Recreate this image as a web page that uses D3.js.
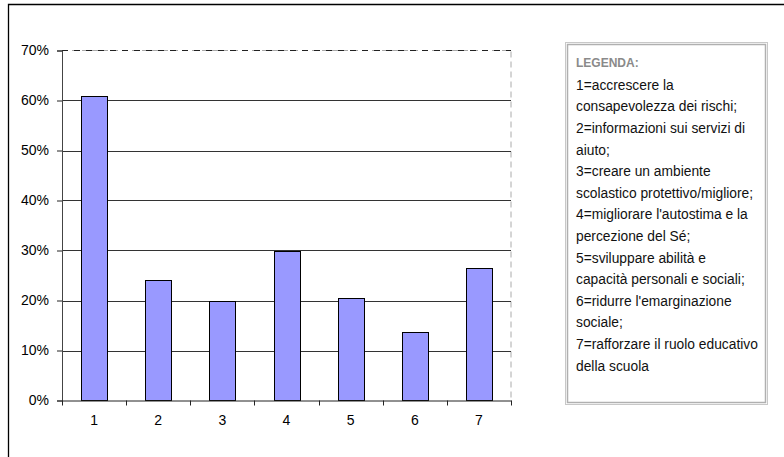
<!DOCTYPE html>
<html><head><meta charset="utf-8">
<script src="https://cdn.jsdelivr.net/npm/d3@7"></script>
<style>body{margin:0;background:#fff}svg{display:block}</style>
</head><body>
<script>
const categories = ["1","2","3","4","5","6","7"];
const values = [0.61, 0.242, 0.199, 0.299, 0.206, 0.138, 0.264];
const yTicks = [0,0.1,0.2,0.3,0.4,0.5,0.6,0.7];
const legendTitle = "LEGENDA:";
const legendLines = ["1=accrescere la","consapevolezza dei rischi;","2=informazioni sui servizi  di","aiuto;","3=creare un ambiente","scolastico protettivo/migliore;","4=migliorare l'autostima e la","percezione del Sé;","5=sviluppare abilità e","capacità personali e sociali;","6=ridurre l'emarginazione","sociale;","7=rafforzare il ruolo educativo","della scuola"];

const W=784,H=457;
const svg=d3.select("body").append("svg").attr("width",W).attr("height",H);
svg.append("rect").attr("width",W).attr("height",H).attr("fill","#fff");
// outer frame
svg.append("path").attr("d",`M8.5,${H+5}V4.5H${W+5}`).attr("fill","none").attr("stroke","#000").attr("stroke-width",1.3);

const L=62,R=511,T=50.5,B=400.5;
const x=d3.scaleBand().domain(categories).range([L,R]);
const y=d3.scaleLinear().domain([0,0.7]).range([B,T]);
const font="'Liberation Sans', Arial, sans-serif";

// plot border dashed
svg.append("path").attr("d",`M${L},${T}H${R}V${B}`).attr("fill","none").attr("stroke","#aaa").attr("stroke-dasharray","6,4");
svg.append("path").attr("d",`M${L},${T}H${R}`).attr("fill","none").attr("stroke","#222").attr("stroke-dasharray","6,6");
// gridlines
svg.append("g").selectAll("line").data(yTicks.filter(d=>d>0&&d<0.7)).join("line")
  .attr("x1",L).attr("x2",R).attr("y1",d=>Math.round(y(d))+0.5).attr("y2",d=>Math.round(y(d))+0.5)
  .attr("stroke","#333").attr("stroke-width",1);

// bars
const bw=26;
svg.append("g").selectAll("rect").data(values).join("rect")
  .attr("x",(d,i)=>Math.round(x(categories[i])+x.bandwidth()/2-bw/2)+0.5)
  .attr("y",d=>Math.round(y(d))+0.5)
  .attr("width",bw)
  .attr("height",d=>B-Math.round(y(d))-0.5)
  .attr("fill","#9999ff").attr("stroke","#000").attr("stroke-width",1);

// y axis
const ya=svg.append("g").attr("transform",`translate(${L},0)`)
  .call(d3.axisLeft(y).tickValues(yTicks).tickFormat(d3.format(".0%")).tickSize(5).tickPadding(8));
ya.select(".domain").attr("stroke","#444");
ya.selectAll("line").attr("stroke","#222");
ya.selectAll("text").attr("font-family",font).attr("font-size",14).attr("fill","#000");

// x axis
const xa=svg.append("g").attr("transform",`translate(0,${B})`)
  .call(d3.axisBottom(x).tickSize(0).tickPadding(15));
xa.select(".domain").attr("stroke","#222");
xa.selectAll("text").attr("font-family",font).attr("font-size",14).attr("fill","#000");
// x ticks at band boundaries
xa.append("g").selectAll("line").data(d3.range(categories.length+1)).join("line")
  .attr("x1",i=>Math.round(L+i*x.step())+0.5).attr("x2",i=>Math.round(L+i*x.step())+0.5)
  .attr("y1",0).attr("y2",5).attr("stroke","#222");

// legend
const lx=565,ly=42,lw=202,lh=362;
svg.append("rect").attr("x",lx+0.5).attr("y",ly+0.5).attr("width",lw).attr("height",lh).attr("fill","#fff").attr("stroke","#c8c8c8").attr("stroke-width",1);
svg.append("rect").attr("x",lx+2.5).attr("y",ly+2.5).attr("width",lw-4).attr("height",lh-4).attr("fill","none").attr("stroke","#b0b0b0").attr("stroke-width",1.5);
const lg=svg.append("g").attr("font-family",font).attr("font-size",13.8);
lg.append("text").attr("x",576).attr("y",63).attr("dy","0.35em").attr("fill","#8a8a8a").attr("font-weight","bold").attr("font-size",12).text(legendTitle);
lg.selectAll("text.l").data(legendLines).join("text").attr("class","l")
  .attr("x",576).attr("y",(d,i)=>85+i*21.6).attr("dy","0.35em").attr("fill","#111").text(d=>d);
</script>
</body></html>
